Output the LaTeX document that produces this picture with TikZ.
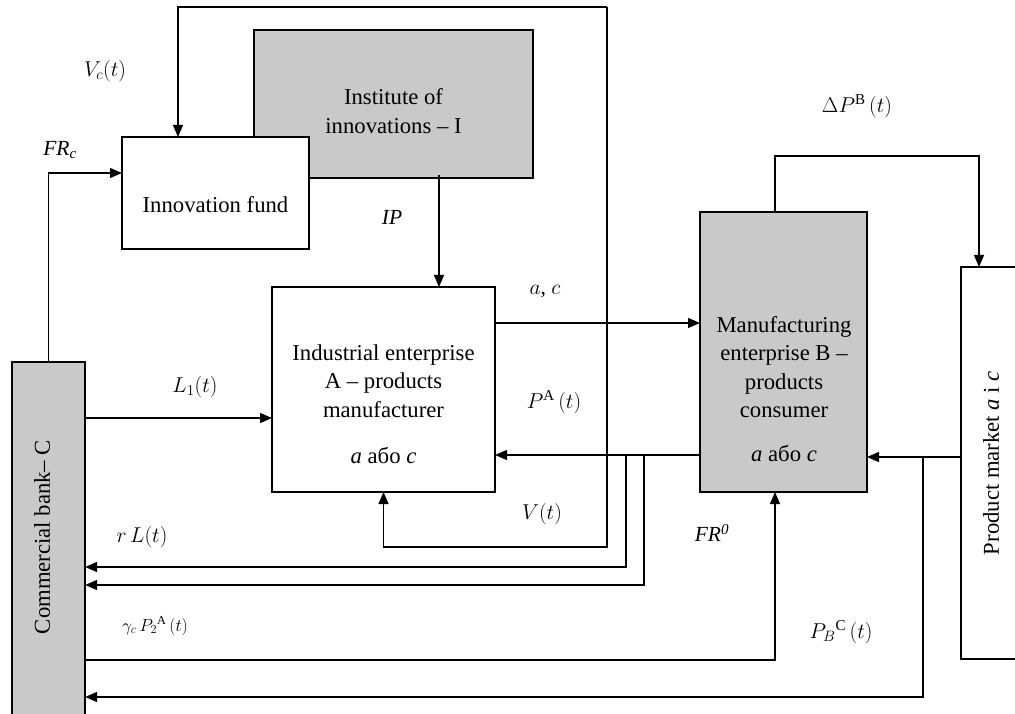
\RequirePackage{fix-cm}
\documentclass[tikz,border=0pt]{standalone}
\usepackage{fontspec}
\setmainfont{LiberationSerif}[Extension=.ttf, UprightFont=*-Regular, ItalicFont=*-Italic, BoldFont=*-Bold, BoldItalicFont=*-BoldItalic]
\usetikzlibrary{arrows.meta}
\definecolor{boxgray}{RGB}{200,201,200}
\begin{document}
\begin{tikzpicture}[x=1pt,y=-1pt,
  box/.style={draw, line width=1.2pt, inner sep=0pt, outer sep=0pt, fill=white},
  gbox/.style={box, fill=boxgray},
  conn/.style={line width=1.2pt},
  arr/.style={conn, -{Triangle[length=12pt,width=10pt]}},
  btxt/.style={font=\fontsize{22.7}{28.5}\selectfont, align=center, inner sep=0pt},
  lbl/.style={font=\fontsize{21.5}{25}\selectfont, inner sep=0pt},
  slbl/.style={font=\fontsize{17.5}{20}\selectfont, inner sep=0pt}]
\useasboundingbox (0,0) rectangle (1015,714);
% boxes
\node[gbox, minimum width=279pt, minimum height=148pt] (I) at (393.5,104) {};
\node[box, minimum width=187pt, minimum height=112pt] (F) at (215.5,193) {};
\node[box, minimum width=223pt, minimum height=205pt] (A) at (383.5,389.5) {};
\node[gbox, minimum width=167pt, minimum height=280pt] (B) at (783.5,352) {};
\node[box, minimum width=69pt, minimum height=392pt] (PM) at (995.5,463) {};
\node[gbox, minimum width=73pt, minimum height=368pt] (C) at (48.5,546) {};
% box texts
\node[btxt] (Itx) at (393.5,111) {Institute of\\innovations -- I};
\node[btxt] (Ftx) at (215.5,205) {Innovation fund};
\node[btxt] (Atx) at (383.5,381) {Industrial enterprise\\A -- products\\manufacturer};
\node[btxt] (Aab) at (383.5,455) {\textit{a} або \textit{c}};
\node[btxt] (Btx) at (784,367) {Manufacturing\\enterprise B --\\products\\consumer};
\node[btxt] (Bab) at (784,453) {\textit{a} або \textit{c}};
\node[btxt, rotate=90] (PMtx) at (991,463) {Product market \textit{a} i \textit{c}};
\node[btxt, rotate=90] (Ctx) at (42,537) {Commercial bank-- C};
% connectors
\coordinate (vtop) at (607,7);
\coordinate (vbot) at (607,547);
\coordinate (vc) at (178,7);
\draw[arr] (vtop) -- (vc) -- (vc |- F.north);
\draw[arr] (vtop) -- (vbot) -| (A.south);
\coordinate (frc) at (48.5,173);
\draw[arr] (C.north) -- (frc) -- (frc -| F.west);
\coordinate (ip) at (439,175);
\draw[arr] (ip) -- (ip |- A.north);
\coordinate (acy) at (0,323);
\draw[arr] (A.east |- acy) -- (B.west |- acy);
\coordinate (pay) at (0,455);
\draw[arr] (B.west |- pay) -- (A.east |- pay);
\coordinate (l1y) at (0,418);
\draw[arr] (C.east |- l1y) -- (A.west |- l1y);
\coordinate (r1) at (626,455);
\coordinate (r1b) at (626,567);
\draw[arr] (r1) -- (r1b) -- (r1b -| C.east);
\coordinate (r2) at (644,455);
\coordinate (r2b) at (644,585);
\draw[arr] (r2) -- (r2b) -- (r2b -| C.east);
\coordinate (g) at (775,660);
\draw[arr] (g -| C.east) -- (g) -- (g |- B.south);
\coordinate (pby) at (0,457);
\draw[arr] (PM.west |- pby) -- (B.east |- pby);
\coordinate (pc) at (923,457);
\coordinate (pcb) at (923,697);
\draw[arr] (pc) -- (pcb) -- (pcb -| C.east);
\coordinate (d1) at (775,156);
\coordinate (d2) at (979,156);
\draw[arr] (d1 |- B.north) -- (d1) -- (d2) -- (d2 |- PM.north);
% labels
\node[lbl] (lVc) at (105,71) {$V_c(t)$};
\node[lbl] (lFRc) at (60,150) {\textit{FR}\textsubscript{\textit{c}}};
\node[lbl] (lIP) at (392,217) {\textit{IP}};
\node[lbl] (lac) at (545,292) {$a$, $c$};
\node[lbl] (lPA) at (554,402) {$P^{\mathrm{A}}\,(t)$};
\node[lbl] (lL1) at (195,387) {$L_1(t)$};
\node[lbl] (lrL) at (142,537) {$r\,L(t)$};
\node[slbl] (lgam) at (155,626) {$\gamma_c\,P_2{}^{\mathrm{A}}\,(t)$};
\node[lbl] (lV) at (542,514) {$V(t)$};
\node[lbl] (lFR0) at (712,533) {\textit{FR}\textsuperscript{\textit{0}}};
\node[lbl] (lPBC) at (841,632) {$P_B{}^{\mathrm{C}}\,(t)$};
\node[lbl] (lDP) at (857,106) {$\Delta P^{\mathrm{B}}\,(t)$};
\end{tikzpicture}
\end{document}
